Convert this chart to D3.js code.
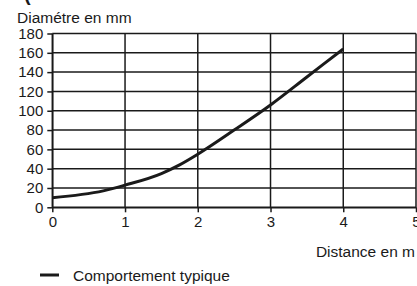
<!DOCTYPE html>
<html>
<head>
<meta charset="utf-8">
<script src="https://cdn.jsdelivr.net/npm/d3@7"></script>
<style>
  body { margin: 0; background: #fff; }
  svg { display: block; font-family: 'Liberation Sans', Arial, sans-serif; }
  .grid line { stroke: #1a1a1a; stroke-width: 1.5; }
  .axis path, .axis line { stroke: #1a1a1a; stroke-width: 1.5; }
  .axis text { font-size: 15px; fill: #1a1a1a; }
</style>
</head>
<body>
<div id="app"></div>
<script>
const distances = [0, 0.7, 1, 1.5, 1.75, 2, 2.5, 3, 3.5, 4]
const diameters = [10, 17, 23, 35, 44, 55, 80, 106, 135, 164]
const xTicks = [0, 1, 2, 3, 4, 5]
const yTicks = [0, 20, 40, 60, 80, 100, 120, 140, 160, 180]
const seriesName = 'Comportement typique'

const W = 417, H = 286
const margin = { top: 33.5, right: 1, bottom: 78.7, left: 52.3 }
const width = W - margin.left - margin.right
const height = H - margin.top - margin.bottom

const root = d3.select('#app').append('svg')
  .attr('width', W)
  .attr('height', H)

const svg = root.append('g')
  .attr('transform', `translate(${margin.left},${margin.top})`)

const x = d3.scaleLinear().domain([0, 5]).range([0, width])
const y = d3.scaleLinear().domain([0, 180]).range([height, 0])

// Gridlines
svg.append('g')
  .attr('class', 'grid')
  .selectAll('line')
  .data(yTicks)
  .join('line')
  .attr('x1', 0).attr('x2', width)
  .attr('y1', d => y(d)).attr('y2', d => y(d))

svg.append('g')
  .attr('class', 'grid')
  .selectAll('line')
  .data(xTicks)
  .join('line')
  .attr('x1', d => x(d)).attr('x2', d => x(d))
  .attr('y1', 0).attr('y2', height)

// Axes
svg.append('g')
  .attr('class', 'axis')
  .attr('transform', `translate(0,${height})`)
  .call(d3.axisBottom(x).tickValues(xTicks).tickFormat(d3.format('d'))
    .tickSize(5).tickSizeOuter(0).tickPadding(4))

svg.append('g')
  .attr('class', 'axis')
  .call(d3.axisLeft(y).tickValues(yTicks).tickFormat(d3.format('d'))
    .tickSize(5).tickSizeOuter(0).tickPadding(4))

// Curve
const data = distances.map((d, i) => ({ d, v: diameters[i] }))
svg.append('path')
  .datum(data)
  .attr('fill', 'none')
  .attr('stroke', '#1a1a1a')
  .attr('stroke-width', 3)
  .attr('stroke-linejoin', 'round')
  .attr('d', d3.line().x(p => x(p.d)).y(p => y(p.v)).curve(d3.curveMonotoneX))

// Labels
root.append('text')
  .attr('x', 24).attr('y', 1)
  .attr('font-size', 20).attr('font-weight', 'bold')
  .attr('fill', '#1a1a1a')
  .text('(')

root.append('text')
  .attr('x', 17).attr('y', 23.3)
  .attr('font-size', 15.5).attr('fill', '#1a1a1a')
  .text('Diamétre en mm')

root.append('text')
  .attr('x', 415).attr('y', 257)
  .attr('text-anchor', 'end')
  .attr('font-size', 15.5).attr('fill', '#1a1a1a')
  .text('Distance en m')

// Legend
const legend = root.append('g').attr('transform', 'translate(40,275)')
legend.append('line')
  .attr('x1', 0).attr('x2', 19)
  .attr('stroke', '#1a1a1a').attr('stroke-width', 3)
legend.append('text')
  .attr('x', 33).attr('y', 5.5)
  .attr('font-size', 15.5).attr('fill', '#1a1a1a')
  .text(seriesName)
</script>
</body>
</html>
